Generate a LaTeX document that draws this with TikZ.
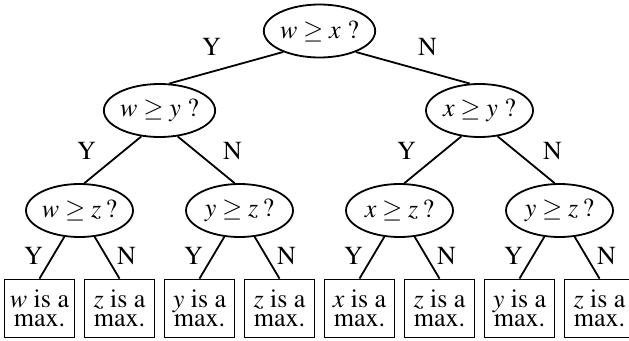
\documentclass[tikz,border=0pt]{standalone}
\usepackage[T1]{fontenc}
\usepackage{mathptmx}
\usetikzlibrary{shapes.geometric}
\begin{document}
\begin{tikzpicture}[x=1pt,y=-1pt,
  q/.style={ellipse,draw,line width=1.8pt,minimum width=107pt,minimum height=53pt,inner sep=0pt,font=\fontsize{26}{30}\selectfont},
  leaf/.style={rectangle,draw,line width=1.8pt,minimum width=70pt,minimum height=58pt,inner sep=0pt,align=center,font=\fontsize{26}{19.5}\selectfont},
  lab/.style={font=\fontsize{26}{30}\selectfont,inner sep=0pt},
  edge/.style={line width=1.8pt}]
\useasboundingbox (0,0) rectangle (629,340);
% question nodes
\node[q] (r)  at (319.5,31)  {$w\geq x$ ?};
\node[q] (a)  at (159.5,110.5) {$w\geq y$ ?};
\node[q] (b)  at (479.5,110.5) {$x\geq y$ ?};
\node[q] (aa) at (79.5,210.5)  {$w\geq z$\,?};
\node[q] (ab) at (239.5,210.5) {$y\geq z$\,?};
\node[q] (ba) at (399.5,210.5) {$x\geq z$\,?};
\node[q] (bb) at (559.5,210.5) {$y\geq z$\,?};
% leaves
\node[leaf] (l1) at (39.5,308.5)  {$w$ is a\\max.};
\node[leaf] (l2) at (119.5,308.5) {$z$ is a\\max.};
\node[leaf] (l3) at (199.5,308.5) {$y$ is a\\max.};
\node[leaf] (l4) at (279.5,308.5) {$z$ is a\\max.};
\node[leaf] (l5) at (359.5,308.5) {$x$ is a\\max.};
\node[leaf] (l6) at (439.5,308.5) {$z$ is a\\max.};
\node[leaf] (l7) at (519.5,308.5) {$y$ is a\\max.};
\node[leaf] (l8) at (599.5,308.5) {$z$ is a\\max.};
% edges
\draw[edge] (r.210) -- (a.70);
\draw[edge] (r.330) -- (b.110);
\draw[edge] (a.235) -- (aa.80);
\draw[edge] (a.305) -- (ab.100);
\draw[edge] (b.235) -- (ba.80);
\draw[edge] (b.305) -- (bb.100);
\draw[edge] (aa.240) -- (l1.north);
\draw[edge] (aa.300) -- (l2.north);
\draw[edge] (ab.240) -- (l3.north);
\draw[edge] (ab.300) -- (l4.north);
\draw[edge] (ba.240) -- (l5.north);
\draw[edge] (ba.300) -- (l6.north);
\draw[edge] (bb.240) -- (l7.north);
\draw[edge] (bb.300) -- (l8.north);
% labels
\node[lab] (ry) at (211.5,47) {Y};
\node[lab] (rn) at (427.5,47) {N};
\node[lab] (ay) at (86.5,151) {Y};
\node[lab] (an) at (232.5,151) {N};
\node[lab] (by) at (406.5,151) {Y};
\node[lab] (bn) at (552.5,151) {N};
\node[lab] (aay) at (33.5,256) {Y};
\node[lab] (aan) at (126.5,256) {N};
\node[lab] (aby) at (193.5,256) {Y};
\node[lab] (abn) at (286.5,256) {N};
\node[lab] (bay) at (353.5,256) {Y};
\node[lab] (ban) at (446.5,256) {N};
\node[lab] (bby) at (513.5,256) {Y};
\node[lab] (bbn) at (606.5,256) {N};
\end{tikzpicture}
\end{document}
